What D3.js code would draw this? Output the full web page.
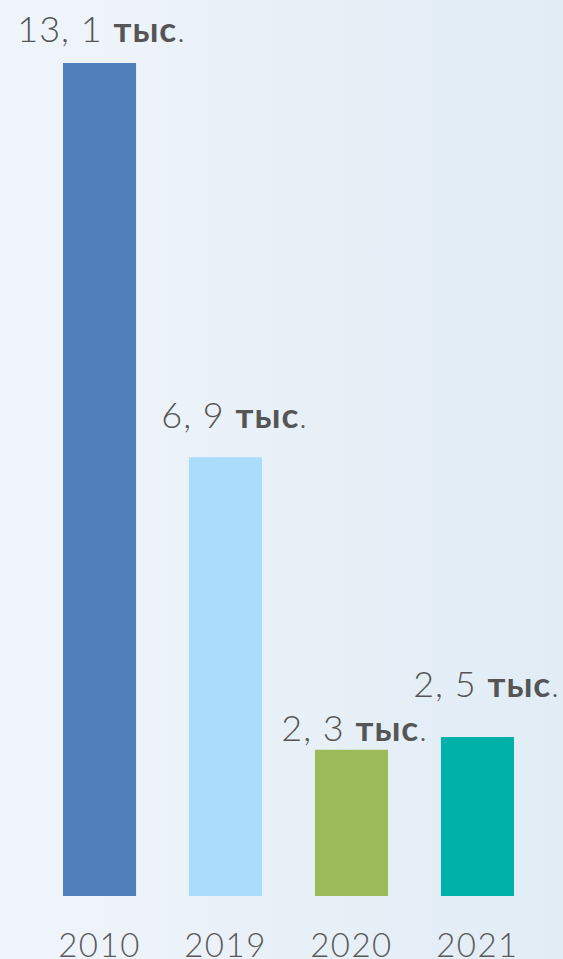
<!DOCTYPE html>
<html>
<head>
<meta charset="utf-8">
<script src="https://cdn.jsdelivr.net/npm/d3@7"></script>
<style>
    html, body { margin: 0; padding: 0; }
    body { width: 563px; height: 959px; overflow: hidden; }
</style>
</head>
<body>
<script>
    // data
    var years = ["2010", "2019", "2020", "2021"];
    var values = [13.1, 6.9, 2.3, 2.5];
    var valueLabels = ["13, 1", "6, 9", "2, 3", "2, 5"];
    var unit = "тыс";
    var colors = ["#4f80bc", "#abdcfc", "#9bbb59", "#00b1aa"];

    // hand placed label nudges (as in the picture)
    var labelDx = [2, 9, 3, 9];
    var labelDy = [21, 29, 9, 40];

    var w = 563, h = 959;
    var svg = d3.select("body").append("svg")
        .attr("width", w).attr("height", h);

    var grad = svg.append("defs").append("linearGradient")
        .attr("id", "bg").attr("x1", 0).attr("x2", 1).attr("y1", 0).attr("y2", 0);
    grad.append("stop").attr("offset", 0).attr("stop-color", "#f0f5fa");
    grad.append("stop").attr("offset", 1).attr("stop-color", "#e1ecf5");
    svg.append("rect").attr("width", w).attr("height", h).attr("fill", "url(#bg)");

    var x = d3.scaleBand().domain(years).range([0, 577]).paddingInner(0.42).paddingOuter(0.5);
    var y = d3.scaleLinear().domain([0, 13.1]).range([896, 63]);

    svg.selectAll(".bar").data(values).enter().append("rect")
        .attr("class", "bar")
        .attr("x", function(d, i){ return x(years[i]); })
        .attr("y", function(d){ return y(d); })
        .attr("width", x.bandwidth())
        .attr("height", function(d){ return y(0) - y(d); })
        .attr("fill", function(d, i){ return colors[i]; });

    var lab = svg.selectAll(".val").data(values).enter().append("text")
        .attr("class", "val")
        .attr("x", function(d, i){ return x(years[i]) + x.bandwidth() / 2 + labelDx[i]; })
        .attr("y", function(d, i){ return y(d) - labelDy[i]; })
        .attr("text-anchor", "middle")
        .attr("font-family", "Lato")
        .attr("fill", "#555")
        .style("letter-spacing", "1px");
    lab.append("tspan").attr("font-weight", 300).attr("font-size", 36)
        .text(function(d, i){ return valueLabels[i] + " "; });
    lab.append("tspan").attr("font-weight", 700).attr("font-size", 35)
        .text(unit);
    lab.append("tspan").attr("font-weight", 300).attr("font-size", 32)
        .text(".");

    svg.selectAll(".year").data(years).enter().append("text")
        .attr("class", "year")
        .attr("x", function(d){ return x(d) + x.bandwidth() / 2; })
        .attr("y", 957)
        .attr("text-anchor", "middle")
        .attr("font-family", "Lato")
        .attr("font-weight", 300)
        .attr("font-size", 33)
        .attr("fill", "#5a5a5a")
        .style("letter-spacing", "1.5px")
        .text(function(d){ return d; });
</script>
</body>
</html>
